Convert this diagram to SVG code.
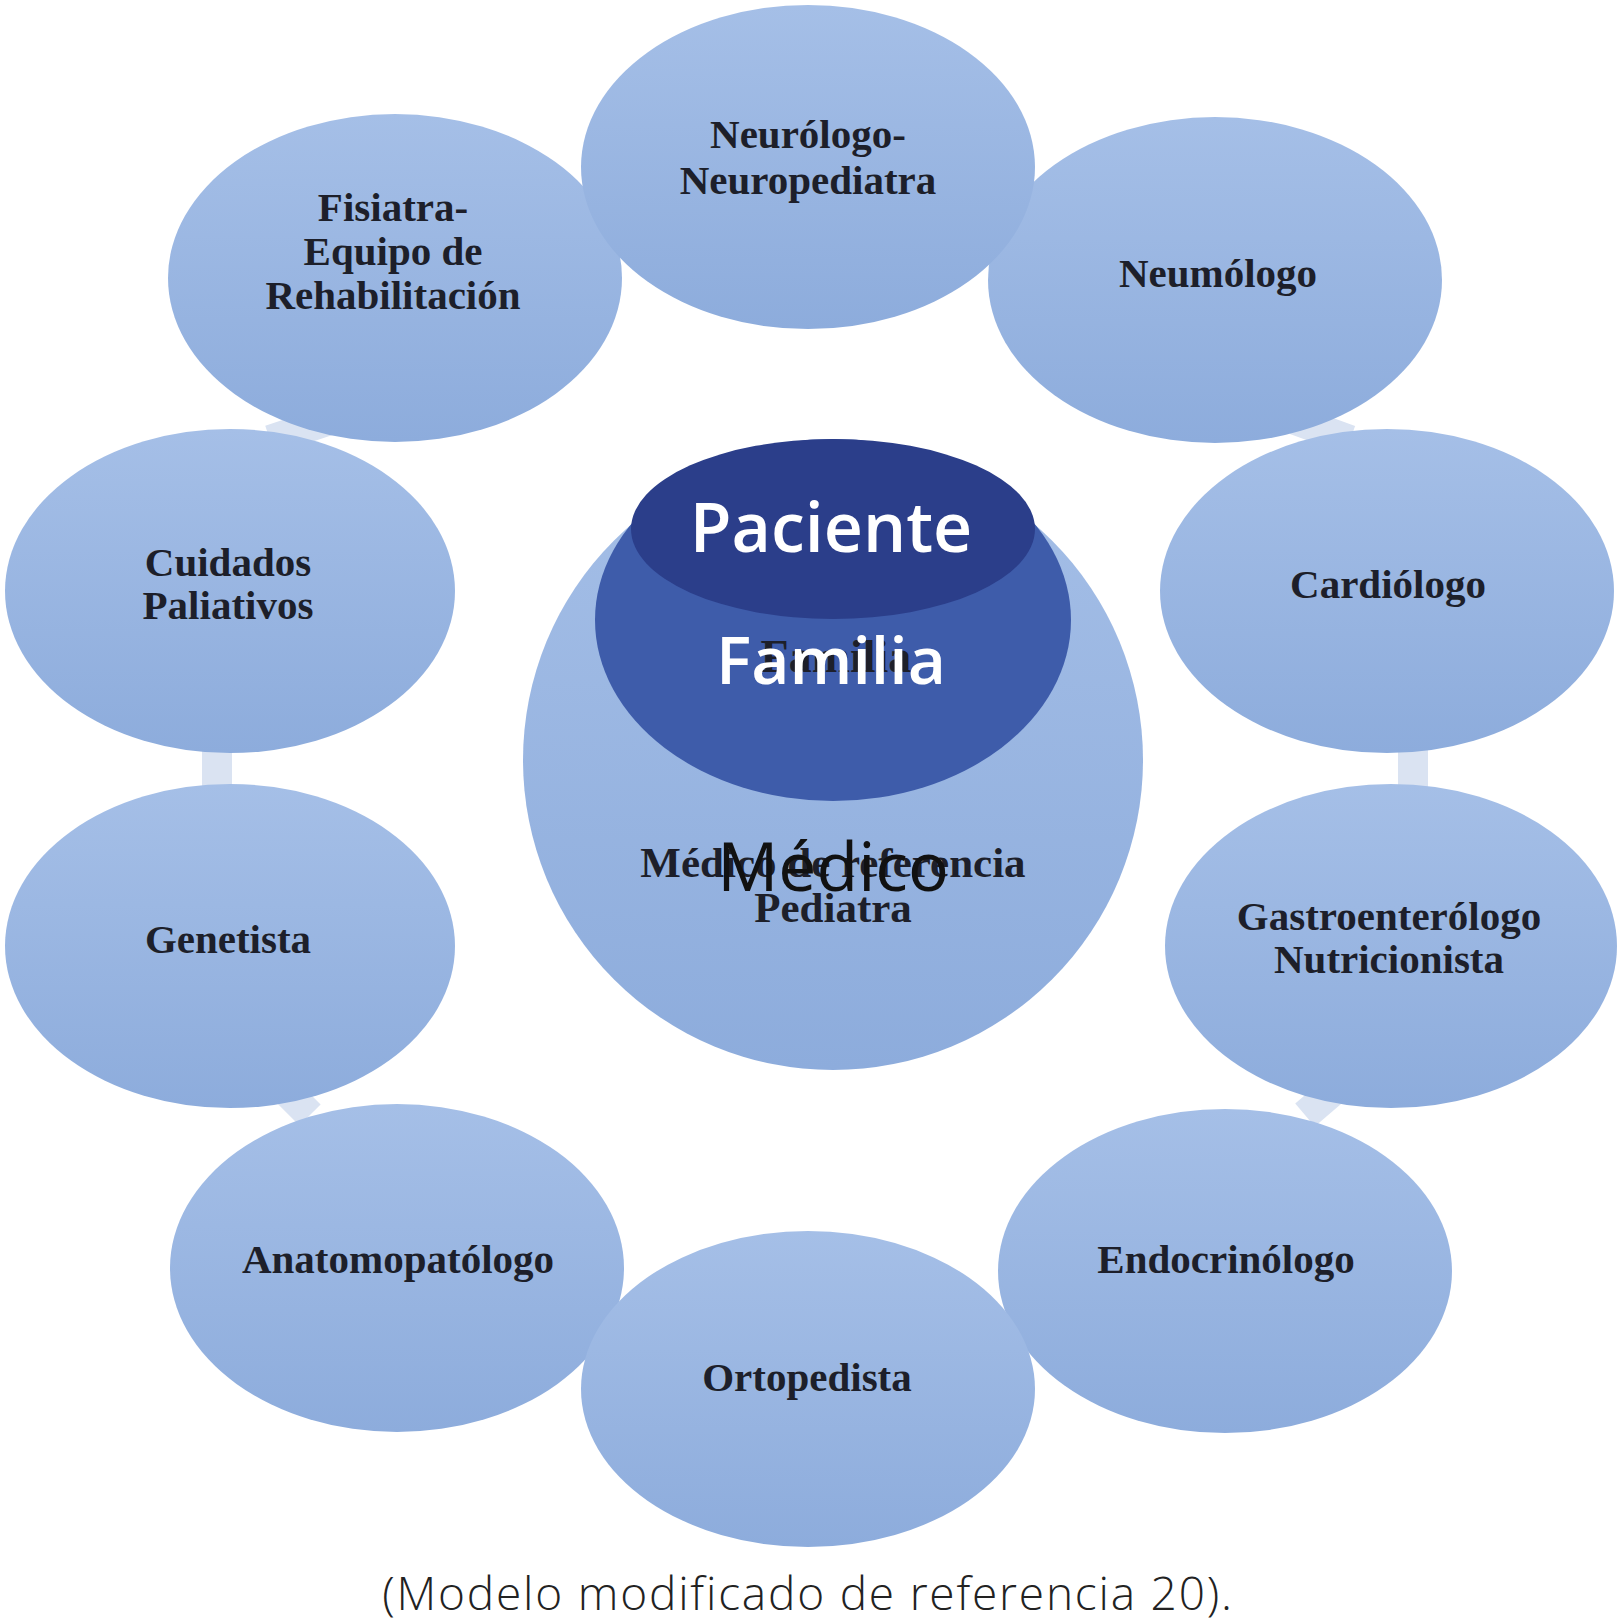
<svg xmlns="http://www.w3.org/2000/svg" width="1620" height="1622" viewBox="0 0 1620 1622">
<defs>
<linearGradient id="g" x1="0" y1="0" x2="0" y2="1">
<stop offset="0" stop-color="#a5bfe7"/>
<stop offset="1" stop-color="#8dacdc"/>
</linearGradient>
<style>
.n{fill:url(#g)}
.t{font-family:"Liberation Serif",serif;font-weight:bold;font-size:41px;fill:#1d1f2a;text-anchor:middle}
.o{font-family:"Open Sans",sans-serif;font-size:68px;text-anchor:middle;font-weight:600}
.c{stroke:#dae3f2;stroke-width:30;fill:none}
</style>
</defs>
<rect width="1620" height="1622" fill="#ffffff"/>
<g id="connectors">
<line class="c" x1="217" y1="740" x2="217" y2="795"/>
<line class="c" x1="1413" y1="740" x2="1413" y2="795"/>
<line class="c" x1="280" y1="1085" x2="310" y2="1115"/>
<line class="c" x1="1340" y1="1085" x2="1305" y2="1115"/>
<line class="c" x1="270" y1="440" x2="330" y2="420"/>
<line class="c" x1="1350" y1="440" x2="1295" y2="420"/>
</g>
<g id="fisiatra"><ellipse class="n" cx="395" cy="278" rx="227" ry="164"/>
<text class="t" x="393" y="221">Fisiatra-</text><text class="t" x="393" y="265">Equipo de</text><text class="t" x="393" y="309">Rehabilitación</text></g>
<g id="neumologo"><ellipse class="n" cx="1215" cy="280" rx="227" ry="163"/>
<text class="t" x="1218" y="287">Neumólogo</text></g>
<g id="neurologo"><ellipse class="n" cx="808" cy="167" rx="227" ry="162"/>
<text class="t" x="808" y="148">Neurólogo-</text><text class="t" x="808" y="194">Neuropediatra</text></g>
<g id="cuidados"><ellipse class="n" cx="230" cy="591" rx="225" ry="162"/>
<text class="t" x="228" y="576">Cuidados</text><text class="t" x="228" y="619">Paliativos</text></g>
<g id="cardiologo"><ellipse class="n" cx="1387" cy="591" rx="227" ry="162"/>
<text class="t" x="1388" y="598">Cardiólogo</text></g>
<g id="genetista"><ellipse class="n" cx="230" cy="946" rx="225" ry="162"/>
<text class="t" x="228" y="953">Genetista</text></g>
<g id="gastro"><ellipse class="n" cx="1391" cy="946" rx="226" ry="162"/>
<text class="t" x="1389" y="930">Gastroenterólogo</text><text class="t" x="1389" y="973">Nutricionista</text></g>
<g id="anatomo"><ellipse class="n" cx="397" cy="1268" rx="227" ry="164"/>
<text class="t" x="398" y="1273">Anatomopatólogo</text></g>
<g id="endocrino"><ellipse class="n" cx="1225" cy="1271" rx="227" ry="162"/>
<text class="t" x="1226" y="1273">Endocrinólogo</text></g>
<g id="ortopedista"><ellipse class="n" cx="808" cy="1389" rx="227" ry="158"/>
<text class="t" x="807" y="1391">Ortopedista</text></g>
<g id="medico"><circle class="n" cx="833" cy="760" r="310"/>
<text class="t" x="833" y="877" style="font-size:43px">Médico de referencia</text><text class="t" x="833" y="922" style="font-size:43px">Pediatra</text>
<text class="o" x="833" y="891" fill="#111111" style="font-weight:500">Médico</text></g>
<g id="familia"><ellipse cx="833" cy="620" rx="238" ry="181" fill="#3e5caa"/>
<text class="t" x="836" y="672" style="font-size:46px" fill="#2a3357">Familia</text>
<text class="o" x="831" y="684" fill="#ffffff" style="font-size:66px">Familia</text></g>
<g id="paciente"><ellipse cx="833" cy="529" rx="202" ry="90" fill="#2b3e8a"/>
<text class="o" x="831" y="552" fill="#ffffff">Paciente</text></g>
<text id="caption" x="808" y="1610" style="font-family:'Open Sans',sans-serif;font-weight:300;font-size:46px;letter-spacing:1.8px;fill:#222222;text-anchor:middle">(Modelo modificado de referencia 20).</text>
</svg>
